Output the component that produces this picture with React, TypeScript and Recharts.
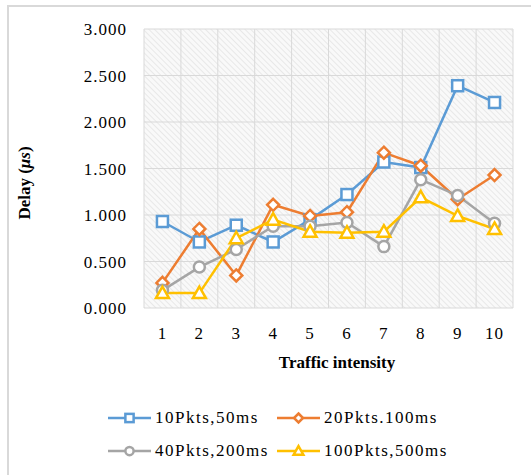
import { CartesianGrid, Line, LineChart, XAxis, YAxis } from "recharts";

const categories = [1, 2, 3, 4, 5, 6, 7, 8, 9, 10];
const pkts10 = [0.93, 0.71, 0.89, 0.71, 0.95, 1.22, 1.57, 1.51, 2.39, 2.21];
const pkts20 = [0.27, 0.85, 0.35, 1.11, 0.99, 1.03, 1.67, 1.53, 1.17, 1.43];
const pkts40 = [0.19, 0.44, 0.63, 0.88, 0.88, 0.92, 0.66, 1.38, 1.21, 0.91];
const pkts100 = [0.16, 0.16, 0.75, 0.95, 0.82, 0.81, 0.82, 1.19, 0.99, 0.85];
const yTicks = [0, 0.5, 1, 1.5, 2, 2.5, 3];
const gridX = [0.5, 1, 1.5, 2, 2.5, 3, 3.5, 4, 4.5, 5, 5.5, 6, 6.5, 7, 7.5, 8, 8.5, 9, 9.5, 10, 10.5];

type Shape = "square" | "diamond" | "circle" | "triangle";

const SERIES: { key: string; name: string; color: string; shape: Shape; values: number[] }[] = [
  { key: "p10", name: "10Pkts,50ms", color: "#5B9BD5", shape: "square", values: pkts10 },
  { key: "p20", name: "20Pkts.100ms", color: "#ED7D31", shape: "diamond", values: pkts20 },
  { key: "p40", name: "40Pkts,200ms", color: "#A5A5A5", shape: "circle", values: pkts40 },
  { key: "p100", name: "100Pkts,500ms", color: "#FFC000", shape: "triangle", values: pkts100 },
];

const FONT = "Liberation Serif, serif";

function marker(shape: Shape, color: string, cx: number, cy: number, s = 1) {
  const common = { fill: "#fff", stroke: color, strokeWidth: 2.5 };
  switch (shape) {
    case "square":
      return <rect x={cx - 5.5 * s} y={cy - 5.5 * s} width={11 * s} height={11 * s} {...common} />;
    case "diamond":
      return (
        <polygon
          points={`${cx},${cy - 6 * s} ${cx + 6 * s},${cy} ${cx},${cy + 6 * s} ${cx - 6 * s},${cy}`}
          {...common}
        />
      );
    case "circle":
      return <circle cx={cx} cy={cy} r={5.5 * s} {...common} />;
    default:
      return (
        <polygon
          points={`${cx},${cy - 6.5 * s} ${cx + 6.5 * s},${cy + 5 * s} ${cx - 6.5 * s},${cy + 5 * s}`}
          {...common}
        />
      );
  }
}

const data = categories.map((c, i) => {
  const row: Record<string, number> = { x: c };
  for (const s of SERIES) row[s.key] = s.values[i];
  return row;
});

function LegendItem({ name, color, shape }: { name: string; color: string; shape: Shape }) {
  return (
    <div style={{ display: "flex", alignItems: "center", height: 20 }}>
      <svg width={47} height={16}>
        <line x1={0} y1={8} x2={43} y2={8} stroke={color} strokeWidth={2.5} />
        {marker(shape, color, 21.5, 8, 0.75)}
      </svg>
      <span style={{ fontSize: 17, letterSpacing: 1.5, fontFamily: FONT }}>{name}</span>
    </div>
  );
}

const tickStyle = { fontSize: 17, fill: "#000", fontFamily: FONT, letterSpacing: 1 };

export default function App() {
  return (
    <div
      style={{
        position: "absolute",
        left: 0,
        top: 0,
        width: 531,
        height: 475,
        overflow: "hidden",
        background: "#fff",
        fontFamily: FONT,
        color: "#000",
      }}
    >
      <div
        style={{
          position: "absolute",
          left: 7,
          top: 5,
          width: 700,
          height: 700,
          borderLeft: "2px solid #d9d9d9",
          borderTop: "2px solid #d9d9d9",
        }}
      />
      <div style={{ position: "absolute", left: 0, top: 0 }}>
        <LineChart
          width={531}
          height={400}
          data={data}
          margin={{ top: 29, right: 18, bottom: 53, left: 0 }}
          style={{ fontFamily: FONT }}
        >
          <defs>
            <pattern id="hatch" width={4} height={4} patternUnits="userSpaceOnUse" patternTransform="rotate(-45)">
              <rect width={4} height={4} fill="#f9f9f9" />
              <line x1={0} y1={0} x2={0} y2={4} stroke="#dadada" strokeWidth={1.1} />
            </pattern>
          </defs>
          <CartesianGrid
            fill="url(#hatch)"
            fillOpacity={1}
            stroke="#d9d9d9"
            strokeWidth={1}
            horizontalValues={yTicks}
            verticalValues={gridX}
          />
          <XAxis
            dataKey="x"
            type="number"
            domain={[0.5, 10.5]}
            ticks={categories}
            axisLine={false}
            tickLine={false}
            tickSize={0}
            tickMargin={19}
            height={39}
            tick={tickStyle}
          />
          <YAxis
            type="number"
            domain={[0, 3]}
            ticks={yTicks}
            width={144}
            axisLine={false}
            tickLine={false}
            tickSize={0}
            tickMargin={17}
            tickFormatter={(v: number) => v.toFixed(3)}
            tick={tickStyle}
          />
          {SERIES.map((s) => (
            <Line
              key={s.key}
              dataKey={s.key}
              name={s.name}
              type="linear"
              stroke={s.color}
              strokeWidth={2.5}
              isAnimationActive={false}
              dot={(p: any) => <g key={`${s.key}-${p.index}`}>{marker(s.shape, s.color, p.cx, p.cy)}</g>}
              activeDot={false}
            />
          ))}
        </LineChart>
      </div>
      <div
        style={{
          position: "absolute",
          left: 25,
          top: 183,
          transform: "translate(-50%, -50%) rotate(-90deg)",
          whiteSpace: "nowrap",
          fontSize: 17,
          fontWeight: "bold",
        }}
      >
        Delay (<i>μs</i>)
      </div>
      <div
        style={{
          position: "absolute",
          left: 337,
          top: 363,
          transform: "translate(-50%, -50%)",
          whiteSpace: "nowrap",
          fontSize: 17,
          fontWeight: "bold",
        }}
      >
        Traffic intensity
      </div>
      <div
        style={{
          position: "absolute",
          left: 108,
          top: 408,
          display: "grid",
          gridTemplateColumns: "169px 190px",
          rowGap: 13,
        }}
      >
        {SERIES.map((s) => (
          <LegendItem key={s.key} name={s.name} color={s.color} shape={s.shape} />
        ))}
      </div>
    </div>
  );
}
